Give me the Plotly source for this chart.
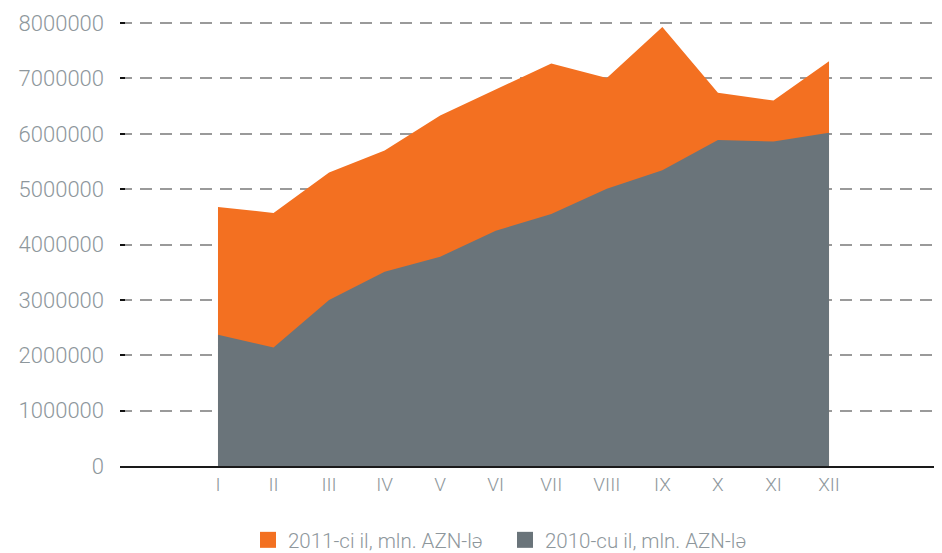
import plotly.graph_objects as go

months = ["I", "II", "III", "IV", "V", "VI", "VII", "VIII", "IX", "X", "XI", "XII"]
values_2011 = [4680000, 4570000, 5300000, 5700000, 6330000, 6800000, 7270000, 7010000, 7930000, 6740000, 6600000, 7310000]
values_2010 = [2370000, 2140000, 3000000, 3510000, 3780000, 4250000, 4550000, 5010000, 5340000, 5890000, 5860000, 6020000]
name_2011 = "2011-ci il, mln. AZN-lə"
name_2010 = "2010-cu il, mln. AZN-lə"
y_ticks = [0, 1000000, 2000000, 3000000, 4000000, 5000000, 6000000, 7000000, 8000000]

ORANGE = "#F37021"
GRAY = "#6A747A"
TEXT = "#8E979C"
FONT = "Roboto"

fig = go.Figure()
fig.add_trace(go.Scatter(x=months, y=values_2011, mode="lines", fill="tozeroy",
                         fillcolor=ORANGE, line=dict(width=0, color=ORANGE),
                         showlegend=False, hoverinfo="skip"))
fig.add_trace(go.Scatter(x=months, y=values_2010, mode="lines", fill="tozeroy",
                         fillcolor=GRAY, line=dict(width=0, color=GRAY),
                         showlegend=False, hoverinfo="skip"))
# legend entries
fig.add_trace(go.Scatter(x=[None], y=[None], mode="markers", name=name_2011,
                         marker=dict(symbol="square", size=16, color=ORANGE)))
fig.add_trace(go.Scatter(x=[None], y=[None], mode="markers", name=name_2010,
                         marker=dict(symbol="square", size=16, color=GRAY)))

fig.update_layout(
    width=942, height=553,
    margin=dict(l=112, r=0, t=14, b=95, autoexpand=False),
    plot_bgcolor="white", paper_bgcolor="white",
    font=dict(family=FONT, color=TEXT, weight=300),
    showlegend=True,
    legend=dict(orientation="h", x=0.1542, xanchor="left", y=-0.1667, yanchor="middle",
                font=dict(size=20.5, color=TEXT, family=FONT, weight=300),
                itemwidth=30, tracegroupgap=0, entrywidth=212, entrywidthmode="pixels"),
    xaxis=dict(type="category", categoryorder="array", categoryarray=months,
               range=[-1.764, 13.178], showgrid=False, zeroline=False, automargin=False,
               showline=True, linecolor="#1a1a1a", linewidth=1.5,
               ticks="", tickfont=dict(size=19, color=TEXT, family=FONT, weight=300)),
    yaxis=dict(range=[0, 8020000], tickvals=y_ticks, ticktext=[str(v) for v in y_ticks],
               showgrid=True, gridcolor="#9a9a9a", gridwidth=1.5, griddash="12px,8px",
               zeroline=False, showline=False, automargin=False,
               ticks="inside", ticklen=5, tickcolor="#111111", tickwidth=1.5,
               ticklabelstandoff=15,
               tickfont=dict(size=22, color=TEXT, family=FONT, weight=300)),
)

fig.write_html("out.html")
